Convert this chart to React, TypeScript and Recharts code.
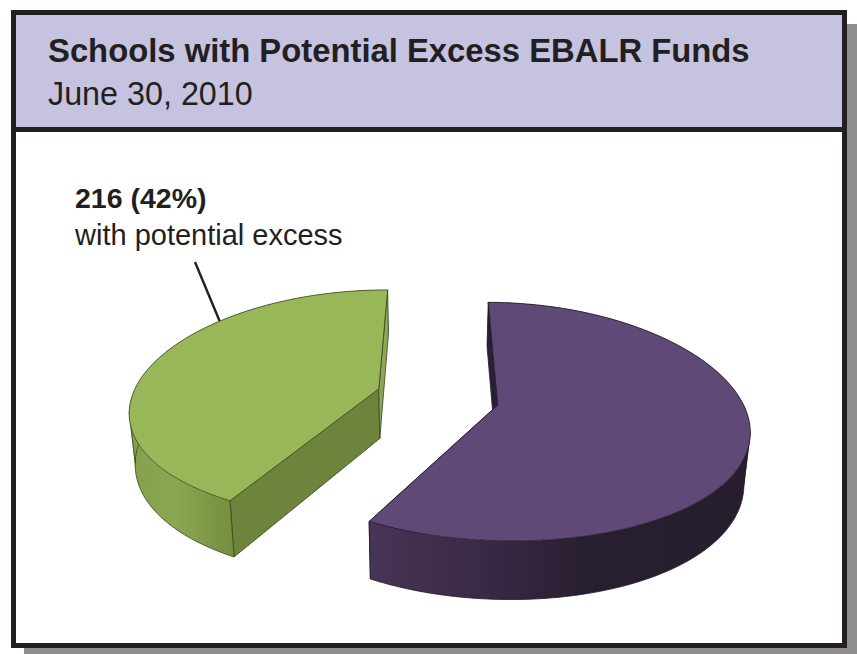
import { Pie, PieChart } from 'recharts';

const sliceNames = ['with potential excess', 'without potential excess'];
const sliceValues = [216, 298];
const slicePercents = [42, 58];

const titleText = 'Schools with Potential Excess EBALR Funds';
const dateText = 'June 30, 2010';

const INK = '#231f20';

// pie is exploded in disc units, then pushed through a simple perspective
const TILT_K = 0.138;
const WIDTH_POWER = 1.3;
const RADIUS_Y = 114.75;
const DEPTH = 50;
const BOTTOM_SHRINK = 0.98;

const sliceLook = [
  {
    shiftX: -0.21,
    shiftY: 0.071,
    rimX: 1,
    top: '#98b758',
    stroke: '#3b4423',
    wall: 'wallGreen',
    cutNear: '#6e843c',
    cutFar: '#8ea656',
  },
  {
    shiftX: 0.271,
    shiftY: -0.069,
    rimX: 0.983,
    top: '#5f4976',
    stroke: '#231a2c',
    wall: 'wallPurple',
    cutNear: '#3c2c4e',
    cutFar: '#2a1f38',
  },
];

const RAD = Math.PI / 180;

function project(
  cx: number,
  cy: number,
  rx: number,
  X: number,
  Y: number,
  lower: boolean,
) {
  const s = 1 / (1 + TILT_K * Y);
  const x = rx * X * Math.pow(s, WIDTH_POWER) * (lower ? BOTTOM_SHRINK : 1);
  const y = -RADIUS_Y * Y * s + (lower ? DEPTH * s : 0);
  return [cx + x, cy + y];
}

const toLine = (pts: number[][]) =>
  pts.map((p, i) => `${i ? 'L' : 'M'}${p[0].toFixed(2)} ${p[1].toFixed(2)}`).join(' ');
const toPath = (pts: number[][]) => `${toLine(pts)} Z`;

// signed area, so all wall quads can wind the same way in one path
const area = (q: number[][]) =>
  q.reduce((sum, p, i) => {
    const n = q[(i + 1) % q.length];
    return sum + p[0] * n[1] - n[0] * p[1];
  }, 0);

// draws one wedge as a slab: near cut face, outer wall, far cut face, then the lid
function SlabSector(props: any) {
  const { cx, cy, outerRadius, startAngle, endAngle, index } = props;
  const look = sliceLook[index];

  const rim = (lower: boolean) => {
    const pts: number[][] = [];
    const steps = Math.ceil(Math.abs(endAngle - startAngle) / 1.5);
    for (let i = 0; i <= steps; i++) {
      const a = (startAngle + ((endAngle - startAngle) * i) / steps) * RAD;
      pts.push(
        project(
          cx,
          cy,
          outerRadius,
          look.shiftX + look.rimX * Math.cos(a),
          look.shiftY + Math.sin(a),
          lower,
        ),
      );
    }
    return pts;
  };

  const topRim = rim(false);
  const lowRim = rim(true);
  const apexTop = project(cx, cy, outerRadius, look.shiftX, look.shiftY, false);
  const apexLow = project(cx, cy, outerRadius, look.shiftX, look.shiftY, true);
  const last = topRim.length - 1;

  // the rim end lower on screen is the near cut
  const nearEnd = topRim[0][1] > topRim[last][1] ? 0 : last;
  const farEnd = nearEnd === 0 ? last : 0;

  // outermost rim point on the exploded side, for the wall's silhouette edge
  const outermost = (pts: number[][]) =>
    pts.reduce((best, p) => ((p[0] - best[0]) * look.shiftX > 0 ? p : best), pts[0]);

  const wallPath = topRim
    .slice(0, last)
    .map((p, i) => {
      const quad = [p, topRim[i + 1], lowRim[i + 1], lowRim[i]];
      return toPath(area(quad) < 0 ? [...quad].reverse() : quad);
    })
    .join(' ');

  return (
    <g strokeWidth={0.8} stroke={look.stroke} strokeLinejoin="round">
      <path d={toPath([apexTop, topRim[nearEnd], lowRim[nearEnd], apexLow])} fill={look.cutNear} />
      <path d={wallPath} fill={`url(#${look.wall})`} stroke="none" />
      <path d={toLine(lowRim)} fill="none" />
      <path d={toLine([outermost(topRim), outermost(lowRim)])} fill="none" />
      <path d={toLine([topRim[nearEnd], lowRim[nearEnd]])} fill="none" />
      <path d={toPath([apexTop, topRim[farEnd], lowRim[farEnd], apexLow])} fill={look.cutFar} />
      <path d={toPath([apexTop, ...topRim])} fill={look.top} />
    </g>
  );
}

export default function App() {
  const data = sliceNames.map((name, i) => ({ name, value: sliceValues[i] }));

  return (
    <div
      style={{
        position: 'absolute',
        left: 0,
        top: 0,
        width: 857,
        height: 654,
        overflow: 'hidden',
        background: '#fff',
        fontFamily: '"Liberation Sans", Arial, sans-serif',
        color: INK,
      }}
    >
      {/* drop shadow and frame */}
      <div style={{ position: 'absolute', left: 24, top: 24, width: 833, height: 630, background: '#8f8d8e' }} />
      <div
        style={{
          position: 'absolute',
          left: 11,
          top: 10,
          width: 826,
          height: 628,
          border: `5px solid ${INK}`,
          background: '#fff',
        }}
      />
      <div
        style={{
          position: 'absolute',
          left: 16,
          top: 15,
          width: 826,
          height: 112,
          background: '#c5c3e0',
          borderBottom: `5px solid ${INK}`,
        }}
      />
      <div style={{ position: 'absolute', left: 48, top: 33, fontSize: 32.8, fontWeight: 700, lineHeight: '36px', whiteSpace: 'nowrap' }}>
        {titleText}
      </div>
      <div style={{ position: 'absolute', left: 48, top: 76, fontSize: 32.3, lineHeight: '36px', whiteSpace: 'nowrap' }}>
        {dateText}
      </div>
      <div style={{ position: 'absolute', left: 75, top: 181, fontSize: 28.5, fontWeight: 700, lineHeight: '34px', whiteSpace: 'nowrap' }}>
        {`${sliceValues[0]} (${slicePercents[0]}%)`}
      </div>
      <div style={{ position: 'absolute', left: 75, top: 218, fontSize: 29, lineHeight: '34px', whiteSpace: 'nowrap' }}>
        {sliceNames[0]}
      </div>

      <svg style={{ position: 'absolute', left: 0, top: 0 }} width={857} height={654}>
        <line x1={195} y1={262} x2={220} y2={322} stroke={INK} strokeWidth={2.4} />
      </svg>

      <div style={{ position: 'absolute', left: 0, top: 0 }}>
        <PieChart width={857} height={654} margin={{ top: 0, right: 0, bottom: 0, left: 0 }}>
          <defs>
            <linearGradient id="wallGreen" gradientUnits="userSpaceOnUse" x1={130} y1={0} x2={382} y2={0}>
              <stop offset="0%" stopColor="#84a04c" />
              <stop offset="18%" stopColor="#8ba751" />
              <stop offset="40%" stopColor="#778f41" />
              <stop offset="100%" stopColor="#6e843c" />
            </linearGradient>
            <linearGradient id="wallPurple" gradientUnits="userSpaceOnUse" x1={364} y1={0} x2={750} y2={0}>
              <stop offset="0%" stopColor="#483558" />
              <stop offset="30%" stopColor="#392a45" />
              <stop offset="60%" stopColor="#271e30" />
              <stop offset="100%" stopColor="#261d2e" />
            </linearGradient>
          </defs>
          <Pie
            data={data}
            dataKey="value"
            nameKey="name"
            cx={430}
            cy={397}
            innerRadius={0}
            outerRadius={247}
            startAngle={241}
            endAngle={-119}
            stroke="none"
            isAnimationActive={false}
            shape={SlabSector}
          />
        </PieChart>
      </div>
    </div>
  );
}
